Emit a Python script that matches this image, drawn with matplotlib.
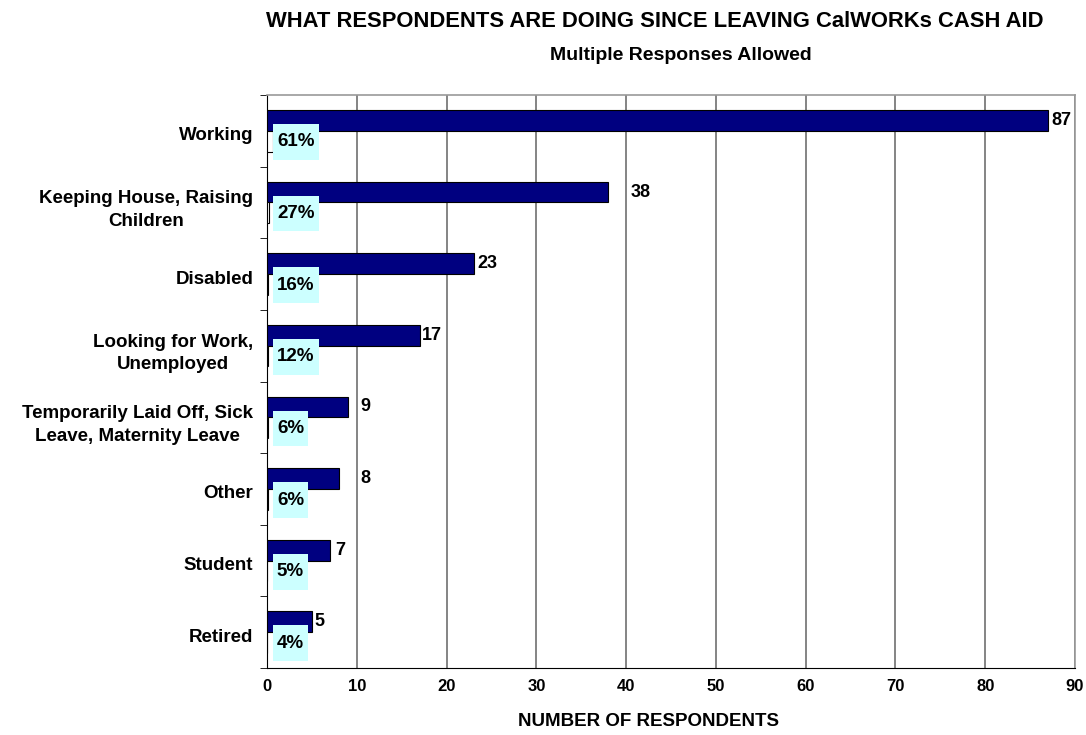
import numpy as np
import matplotlib
matplotlib.use("Agg")
from matplotlib import pyplot as plt
from matplotlib.path import Path
from matplotlib.transforms import ScaledTranslation

categories = ["Working", "Keeping House, Raising\nChildren", "Disabled",
              "Looking for Work,\nUnemployed",
              "Temporarily Laid Off, Sick\nLeave, Maternity Leave",
              "Other", "Student", "Retired"]
counts = [87, 38, 23, 17, 9, 8, 7, 5]
percents = [61, 27, 16, 12, 6, 6, 5, 4]
# where each count label sits (in data units, as in the original)
count_label_x = [87.4, 40.5, 23.4, 17.2, 10.4, 10.4, 7.6, 5.3]

plt.rcParams['font.family'] = ['Liberation Sans', 'DejaVu Sans']
plt.rcParams['font.weight'] = 'bold'


def label_box(x0, y0, width, height, mutation_size):
    # wider vertical padding than horizontal, like the excel label boxes
    px = 0.22 * mutation_size
    py = 0.5 * mutation_size
    x0, x1 = x0 - px, x0 + width + px
    y0, y1 = y0 - py, y0 + height + py
    return Path([(x0, y0), (x1, y0), (x1, y1), (x0, y1), (x0, y0)], closed=True)


fig = plt.figure(figsize=(10.86, 7.35), dpi=100)
ax = fig.add_axes([0.2459, 0.0912, 0.744, 0.7795])

y = np.arange(len(categories))
h = 0.29
ax.barh(y - h / 2, counts, height=h, color="#000080", edgecolor="black", linewidth=0.8, zorder=3)
ax.barh(y + h / 2, [p / 100 for p in percents], height=h, color="white",
        edgecolor="black", linewidth=0.8, zorder=3)

for i in range(len(categories)):
    ax.text(count_label_x[i], y[i] - h / 2, str(counts[i]), ha="left", va="center",
            fontsize=13, fontweight="bold", zorder=5, clip_on=False)
    ax.text(1.1, y[i] + h / 2 + 0.01, f"{percents[i]}%", ha="left", va="center",
            fontsize=13.5, fontweight="bold", zorder=5,
            bbox=dict(boxstyle=label_box, facecolor="#CCFFFF", edgecolor="none"))

ax.set_xlim(0, 90)
ax.set_ylim(len(categories) - 0.5, -0.5)
ax.set_xticks(range(0, 91, 10))
ax.set_xticklabels([str(v) for v in range(0, 91, 10)], fontsize=12, fontweight="bold")
ax.tick_params(axis="x", length=0, pad=8)
ax.set_yticks(y)
ax.set_yticklabels(categories, fontsize=13.5, fontweight="bold", multialignment="center",
                   linespacing=1.4)
ax.set_yticks(np.arange(-0.5, len(categories), 1), minor=True)
ax.tick_params(axis="y", which="major", length=0, pad=10)
ax.tick_params(axis="y", which="minor", length=5, direction="out", color="black")
shift = ScaledTranslation(0, -3 / 100, fig.dpi_scale_trans)
for lab in ax.get_yticklabels():
    lab.set_transform(lab.get_transform() + shift)

ax.grid(axis="x", color="#707070", linewidth=1.2, zorder=0)
for s in ["top", "right"]:
    ax.spines[s].set_color("#999999")
    ax.spines[s].set_linewidth(1.2)
ax.spines["left"].set_color("black")
ax.spines["bottom"].set_color("black")

fig.text(0.597, 0.0177, "NUMBER OF RESPONDENTS", ha="center", va="center",
         fontsize=13.5, fontweight="bold")
fig.text(0.603, 0.971, "WHAT RESPONDENTS ARE DOING SINCE LEAVING CalWORKs CASH AID",
         ha="center", va="center", fontsize=15.8, fontweight="bold")
fig.text(0.627, 0.925, "Multiple Responses Allowed", ha="center", va="center",
         fontsize=14, fontweight="bold")

fig.savefig("out.png", dpi=100)
